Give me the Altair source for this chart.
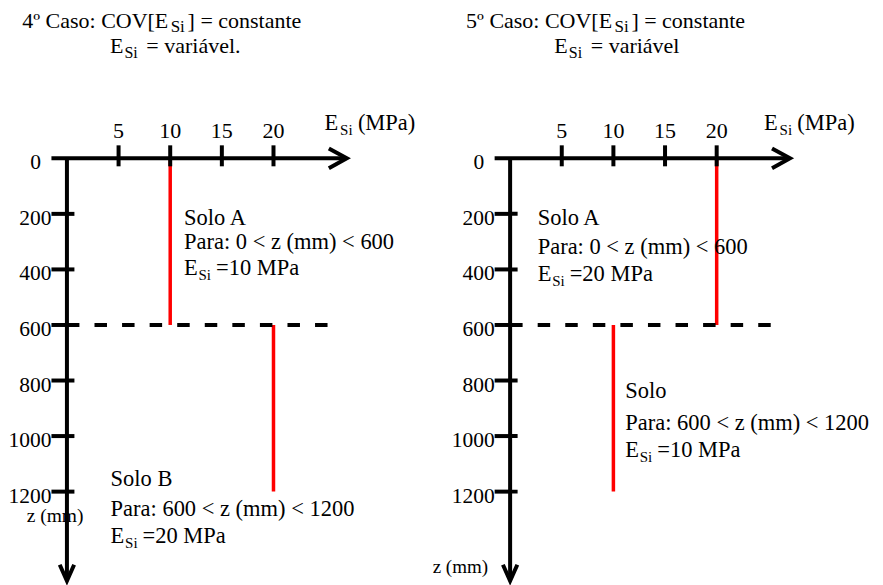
import altair as alt
import pandas as pd

FONT = "Liberation Serif"

# ---------------- values ----------------
e_ticks = [5, 10, 15, 20]                       # E_Si axis (MPa)
e_tick_labels = ["5", "10", "15", "20"]
z_ticks = [200, 400, 600, 800, 1000, 1200]      # depth axis (mm)
z_tick_labels = ["200", "400", "600", "800", "1000", "1200"]
z_origin_label = ["0"]
layer_top = [0, 600]          # top of Solo A / Solo B (mm)
layer_bottom = [600, 1200]    # bottom of Solo A / Solo B (mm)
case4_esi = [10, 20]          # 4º caso: E_Si of each layer (MPa)
case5_esi = [20, 10]          # 5º caso: E_Si of each layer (MPa)
interface_z = [600]
interface_e_end = [25.25]

case4_title1 = ["4º Caso: COV[E", "Si", "] = constante"]
case4_title2 = ["E", "Si", "= variável."]
case5_title1 = ["5º Caso: COV[E", "Si", "] = constante"]
case5_title2 = ["E", "Si", "= variável"]
axis_e_title = ["E", "Si", "(MPa)"]
axis_z_title = "z (mm)"
case4_blocks = [["Solo A", "Para: 0 < z (mm) < 600", "=10 MPa"],
                ["Solo B", "Para: 600 < z (mm) < 1200", "=20 MPa"]]
case5_blocks = [["Solo A", "Para: 0 < z (mm) < 600", "=20 MPa"],
                ["Solo", "Para: 600 < z (mm) < 1200", "=10 MPa"]]

# ---------------- layout / style ----------------
PX_PER_MPA = 10.34
HEIGHT = 577
Z_DOMAIN = [-540, 1535]
AX_E0, AX_E1, ARROW_E = -1.5, 27.0, 27.1
AX_Z1, ARROW_Z = 1515, 1521

left_cfg = dict(
    width=424, xdom=[-5.706, 35.30],
    title1=(-4.32, -471), title2=(4.16, -377.6), elabel=(24.95, -100.7),
    blocks=[(11.34, [240.9, 327.3, 420.8]), (4.23, [1179.6, 1287.4, 1384.5])],
    zlabel=(-3.90, 1308), zlabel_fs=19.5,
)
right_cfg = dict(
    width=444, xdom=[-7.611, 35.329],
    title1=(-4.26, -471), title2=(4.28, -377.6), elabel=(24.59, -100.7),
    blocks=[(2.67, [240.9, 345.2, 442.3]), (11.15, [863.1, 978.2, 1075.3])],
    zlabel=(-7.50, 1492.4), zlabel_fs=19,
)


def composite(main, sub, e0, z0, pieces, offs, fs, fs_sub):
    main.append(dict(e=e0, z=z0, text=pieces[0], fs=fs))
    sub.append(dict(e=e0 + offs[0] / PX_PER_MPA, z=z0, text=pieces[1], fs=fs_sub))
    main.append(dict(e=e0 + offs[1] / PX_PER_MPA, z=z0, text=pieces[2], fs=fs))


def panel(cfg, esi, title1, title2, blocks):
    xs = alt.Scale(domain=cfg["xdom"], nice=False, zero=False)
    ys = alt.Scale(domain=Z_DOMAIN, reverse=True, nice=False, zero=False)

    def X(f):
        return alt.X(f"{f}:Q", scale=xs, axis=None)

    def Y(f):
        return alt.Y(f"{f}:Q", scale=ys, axis=None)

    red = alt.Chart(pd.DataFrame({"e": esi, "z1": layer_top, "z2": layer_bottom})).mark_rule(
        color="#ff0000", strokeWidth=3.5).encode(x=X("e"), y=Y("z1"), y2="z2")

    dashed = alt.Chart(pd.DataFrame({"e0": [0], "e1": interface_e_end, "z": interface_z})).mark_rule(
        color="black", strokeWidth=4, strokeDash=[12.5, 15.1]).encode(x=X("e0"), x2="e1", y=Y("z"))

    haxis = alt.Chart(pd.DataFrame({"e0": [AX_E0], "e1": [AX_E1], "z": [0]})).mark_rule(
        color="black", strokeWidth=4).encode(x=X("e0"), x2="e1", y=Y("z"))
    vaxis = alt.Chart(pd.DataFrame({"e": [0], "z0": [0], "z1": [AX_Z1]})).mark_rule(
        color="black", strokeWidth=4).encode(x=X("e"), y=Y("z0"), y2="z1")

    harrow = alt.Chart(pd.DataFrame({"e": [ARROW_E], "z": [0]})).mark_point(
        shape="M-1,-0.55L0,0L-1,0.55", filled=False, size=1296, strokeWidth=4,
        color="black", opacity=1).encode(x=X("e"), y=Y("z"))
    varrow = alt.Chart(pd.DataFrame({"e": [0], "z": [ARROW_Z]})).mark_point(
        shape="M-0.45,-1L0,0L0.45,-1", filled=False, size=1024, strokeWidth=4,
        color="black", opacity=1).encode(x=X("e"), y=Y("z"))

    xt = pd.DataFrame({"e": e_ticks, "z": [0] * len(e_ticks), "lab": e_tick_labels})
    zt = pd.DataFrame({"e": [0] * len(z_ticks), "z": z_ticks, "lab": z_tick_labels})
    z0 = pd.DataFrame({"e": [0], "z": [0], "lab": z_origin_label})

    xticks = alt.Chart(xt).mark_tick(orient="vertical", size=21, thickness=4, yOffset=-2.5,
                                     color="black", opacity=1).encode(x=X("e"), y=Y("z"))
    zticks = alt.Chart(zt).mark_tick(orient="horizontal", size=23, thickness=4, xOffset=-4,
                                     color="black", opacity=1).encode(x=X("e"), y=Y("z"))
    xlabels = alt.Chart(xt).mark_text(font=FONT, fontSize=22, align="center", baseline="alphabetic",
                                      dy=-20, color="black").encode(x=X("e"), y=Y("z"), text="lab:N")
    zlabels = alt.Chart(zt).mark_text(font=FONT, fontSize=21.5, align="right", baseline="alphabetic",
                                      dx=-15.5, dy=11, color="black").encode(x=X("e"), y=Y("z"), text="lab:N")
    zlab0 = alt.Chart(z0).mark_text(font=FONT, fontSize=21.5, align="right", baseline="alphabetic",
                                    dx=-26, dy=11, color="black").encode(x=X("e"), y=Y("z"), text="lab:N")

    main, sub = [], []
    composite(main, sub, *cfg["title1"], title1, (148.5, 165.5), 22, 17)
    composite(main, sub, *cfg["title2"], title2, (14.5, 36.5), 22, 16)
    composite(main, sub, *cfg["elabel"], axis_e_title, (15.5, 33.3), 22.5, 15)
    for (e0, zs), lines in zip(cfg["blocks"], blocks):
        main.append(dict(e=e0, z=zs[0], text=lines[0], fs=22.5))
        main.append(dict(e=e0, z=zs[1], text=lines[1], fs=22.5))
        composite(main, sub, e0, zs[2], ["E", "Si", lines[2]], (14.5, 32), 22.5, 15)
    main.append(dict(e=cfg["zlabel"][0], z=cfg["zlabel"][1], text=axis_z_title, fs=cfg["zlabel_fs"]))

    main_txt = alt.Chart(pd.DataFrame(main)).mark_text(
        font=FONT, align="left", baseline="alphabetic", color="black").encode(
        x=X("e"), y=Y("z"), text="text:N", size=alt.Size("fs:Q", scale=None))
    sub_txt = alt.Chart(pd.DataFrame(sub)).mark_text(
        font=FONT, align="left", baseline="alphabetic", dy=5, color="black").encode(
        x=X("e"), y=Y("z"), text="text:N", size=alt.Size("fs:Q", scale=None))

    return alt.layer(red, dashed, haxis, vaxis, harrow, varrow, xticks, zticks,
                     xlabels, zlabels, zlab0, main_txt, sub_txt).properties(
        width=cfg["width"], height=HEIGHT)


left = panel(left_cfg, case4_esi, case4_title1, case4_title2, case4_blocks)
right = panel(right_cfg, case5_esi, case5_title1, case5_title2, case5_blocks)

chart = alt.hconcat(left, right, spacing=0, bounds="flush").properties(
    padding=0, background="white").configure_view(strokeWidth=0)

chart.save("out.html", embed_options={"renderer": "svg", "actions": False})
